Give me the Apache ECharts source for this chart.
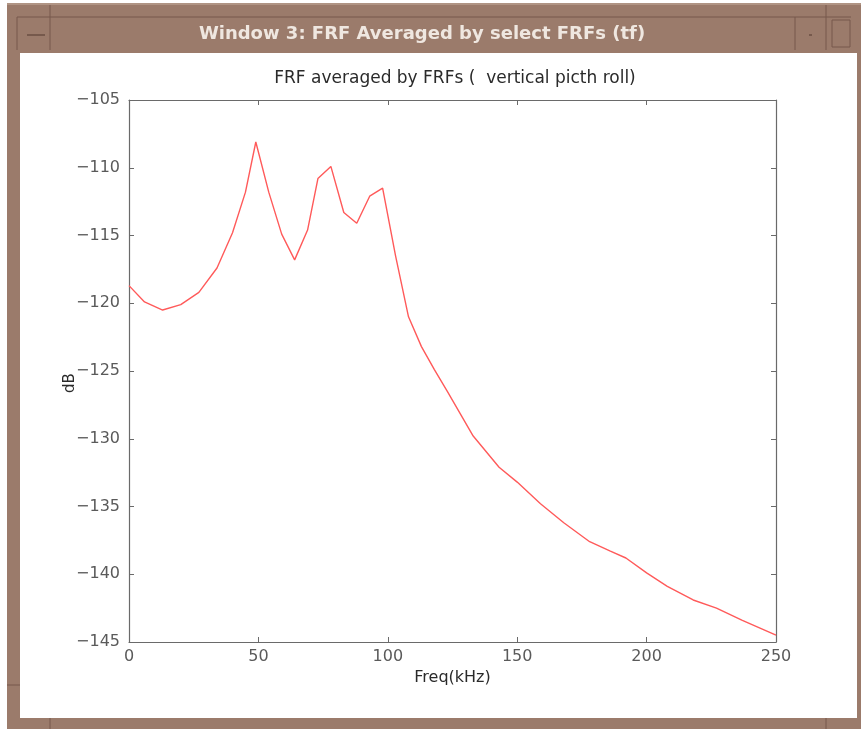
<!DOCTYPE html>
<html>
<head>
<meta charset="utf-8">
<script src="https://cdn.jsdelivr.net/npm/echarts@6/dist/echarts.min.js"></script>
<style>
html,body{margin:0;padding:0;background:#fff;}
#chart{width:861px;height:729px;}
</style>
</head>
<body>
<div id="chart"></div>
<script>
// ---- data ----
const windowTitle = 'Window 3: FRF Averaged by select FRFs (tf)';
const chartTitle = 'FRF averaged by FRFs (  vertical picth roll)';
const xName = 'Freq(kHz)';
const yName = 'dB';
const freq = [0, 6, 13, 20, 27, 34, 40, 45, 49, 54, 59, 64, 69, 73, 78, 83, 88, 93, 98, 103, 108, 113, 118, 123, 133, 143, 150, 159, 168, 178, 186, 192, 200, 208, 218, 227, 237, 250];
const dB = [-118.7, -119.9, -120.5, -120.1, -119.2, -117.4, -114.8, -111.8, -108.1, -111.8, -114.9, -116.8, -114.6, -110.8, -109.9, -113.3, -114.1, -112.1, -111.5, -116.5, -121.0, -123.2, -124.9, -126.5, -129.8, -132.1, -133.2, -134.8, -136.2, -137.6, -138.3, -138.8, -139.9, -140.9, -141.9, -142.5, -143.4, -144.5];
const xTicks = [0, 50, 100, 150, 200, 250];
const yTicks = [-145, -140, -135, -130, -125, -120, -115, -110, -105];

const seriesData = freq.map((f, i) => [f, dB[i]]);
const brown = '#9b7b6b', dark = '#76594c';
const tickFont = {fontFamily: 'DejaVu Sans', fontSize: 16, color: '#5a5a5a'};
const fmt = v => (v < 0 ? '\u2212' + Math.abs(v) : String(v));

const chart = echarts.init(document.getElementById('chart'), null, {renderer: 'canvas'});
const axisCommon = {
  axisLine: {show: true, onZero: false, lineStyle: {color: '#6a6a6a', width: 1.2}},
  axisTick: {show: true, inside: true, length: 5, lineStyle: {color: '#6a6a6a'}},
  splitLine: {show: false}
};
chart.setOption({
  animation: false,
  backgroundColor: '#ffffff',
  graphic: [
    {type: 'rect', z: -10, shape: {x: 7, y: 3, width: 854, height: 726}, style: {fill: brown}},
    {type: 'rect', z: -10, shape: {x: 7, y: 3, width: 854, height: 2}, style: {fill: '#b09484'}},
    {type: 'line', z: -9, shape: {x1: 17, y1: 17, x2: 851, y2: 17}, style: {stroke: dark, lineWidth: 1}},
    {type: 'line', z: -9, shape: {x1: 17, y1: 17, x2: 17, y2: 50}, style: {stroke: dark, lineWidth: 1}},
    {type: 'line', z: -9, shape: {x1: 50, y1: 5, x2: 50, y2: 50}, style: {stroke: dark, lineWidth: 1}},
    {type: 'line', z: -9, shape: {x1: 27, y1: 35, x2: 45, y2: 35}, style: {stroke: dark, lineWidth: 2}},
    {type: 'line', z: -9, shape: {x1: 795, y1: 17, x2: 795, y2: 50}, style: {stroke: dark, lineWidth: 1}},
    {type: 'line', z: -9, shape: {x1: 826, y1: 5, x2: 826, y2: 50}, style: {stroke: dark, lineWidth: 1}},
    {type: 'rect', z: -9, shape: {x: 809, y: 34, width: 3, height: 2}, style: {fill: dark}},
    {type: 'rect', z: -9, shape: {x: 832, y: 20, width: 18, height: 27}, style: {fill: 'none', stroke: dark, lineWidth: 1}},
    {type: 'line', z: -9, shape: {x1: 7, y1: 685, x2: 20, y2: 685}, style: {stroke: dark, lineWidth: 1}},
    {type: 'line', z: -9, shape: {x1: 50, y1: 718, x2: 50, y2: 729}, style: {stroke: dark, lineWidth: 1}},
    {type: 'line', z: -9, shape: {x1: 826, y1: 718, x2: 826, y2: 729}, style: {stroke: dark, lineWidth: 1}},
    {type: 'rect', z: -8, shape: {x: 20, y: 53, width: 837, height: 665}, style: {fill: '#ffffff'}},
    {type: 'text', z: -7, x: 422, y: 34, style: {text: windowTitle, fill: '#efe7e0', font: 'bold 18px "DejaVu Sans"', align: 'center', verticalAlign: 'middle'}},
    {type: 'text', z: 5, x: 70, y: 383, rotation: Math.PI / 2, style: {text: yName, fill: '#2a2a2a', font: '15px "DejaVu Sans"', align: 'center', verticalAlign: 'middle'}}
  ],
  title: {
    text: chartTitle, left: 450, top: 65, textAlign: 'center',
    textStyle: {fontFamily: 'DejaVu Sans', fontSize: 17, fontWeight: 'normal', color: '#2a2a2a'}
  },
  grid: {left: 129, right: 85, top: 100, bottom: 87, containLabel: false},
  xAxis: [
    Object.assign({}, axisCommon, {
      type: 'value', min: 0, max: 250, interval: 50, position: 'bottom',
      name: xName, nameLocation: 'middle', nameGap: 27,
      nameTextStyle: {fontFamily: 'DejaVu Sans', fontSize: 16, color: '#2a2a2a'},
      axisLabel: Object.assign({}, tickFont, {margin: 7, formatter: v => (xTicks.includes(v) ? String(v) : '')})
    }),
    Object.assign({}, axisCommon, {
      type: 'value', min: 0, max: 250, interval: 50, position: 'top', axisLabel: {show: false}
    })
  ],
  yAxis: [
    Object.assign({}, axisCommon, {
      type: 'value', min: -145, max: -105, interval: 5, position: 'left',
      axisLabel: Object.assign({}, tickFont, {margin: 9, formatter: v => (yTicks.includes(v) ? fmt(v) : '')})
    }),
    Object.assign({}, axisCommon, {
      type: 'value', min: -145, max: -105, interval: 5, position: 'right', axisLabel: {show: false}
    })
  ],
  series: [{
    type: 'line', data: seriesData, showSymbol: false, smooth: false,
    lineStyle: {color: '#ff5a5a', width: 1.4}
  }]
});
</script>
</body>
</html>
